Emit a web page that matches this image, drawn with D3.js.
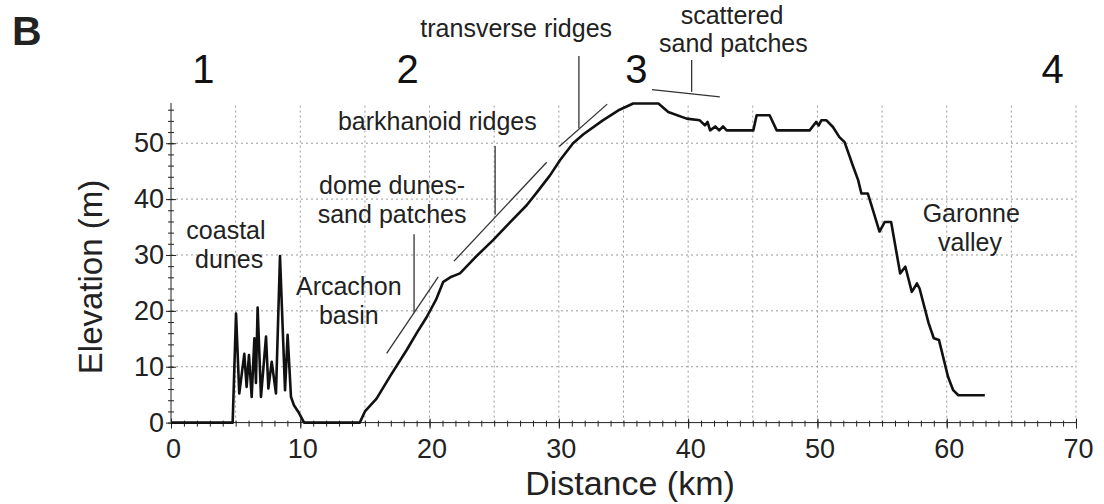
<!DOCTYPE html>
<meta charset="utf-8">
<style>
body { margin: 0; background: #fff; }
svg { display: block; font-family: "Liberation Sans", Arial, sans-serif; }
.grid line { stroke: #9a9a9a; stroke-width: 1; stroke-dasharray: 2,3; }
.axis path, .axis line { stroke: #222; fill: none; }
.axis text { font-size: 27px; fill: #222; font-family: "Liberation Sans", Arial, sans-serif; }
.profile { fill: none; stroke: #111; stroke-width: 2.6px; stroke-linejoin: round; }
.lead { stroke: #333; stroke-width: 1.3px; }
.note { font-size: 25px; fill: #222; text-anchor: middle; }
.zone { font-size: 40px; fill: #111; text-anchor: middle; }
</style>
<body>
<div id="chart"></div>
<script src="https://cdn.jsdelivr.net/npm/d3@7"></script>
<script>

// profile: distance (km) and elevation (m)
var distKm = [0, 4.77, 5.03, 5.28, 5.67, 5.85, 6.03, 6.24, 6.45, 6.57, 6.7, 6.96, 7.35, 7.53, 7.79, 8.12, 8.43, 8.82, 9.02, 9.28, 9.51, 9.85, 10.18, 10.3,
  14.6, 15.0, 15.9, 17.0, 18.23, 19.0, 19.78, 20.5, 21.06, 21.6, 22.35, 23.5, 24.93, 26.2, 27.51, 28.3, 29.3, 30.1, 31.1, 31.9, 33.4, 34.7, 35.75, 37.7,
  38.46, 39.88, 40.9, 41.3, 41.5, 41.7, 42.1, 42.4, 42.7, 42.98, 45.04, 45.3, 46.3, 46.85, 49.4, 49.9, 50.1, 50.3, 50.7, 51.2, 51.7, 52.1, 52.77,
  53.15, 53.4, 53.9, 54.3, 54.8, 55.2, 55.7, 56.4, 56.8, 57.3, 57.7, 57.9, 58.6, 59.0, 59.4, 60.1, 60.5, 60.9, 62.95];
var elevM = [0, 0, 19.5, 5.2, 12.3, 6.4, 12.1, 4.6, 15.1, 7.1, 20.6, 4.6, 15.4, 6.1, 10.9, 5.2, 29.8, 5.8, 15.7, 4.6, 3.1, 1.9, 0.5, 0,
  0, 2.0, 4.3, 8.5, 13.0, 16.0, 18.9, 22.0, 25.2, 26.0, 26.7, 29.5, 32.7, 35.8, 38.9, 41.2, 44.2, 47.0, 50.0, 51.6, 54.1, 56.0, 57.1, 57.1,
  55.6, 54.4, 54.1, 53.2, 53.8, 52.3, 53.0, 52.3, 53.0, 52.3, 52.3, 55.0, 55.0, 52.3, 52.3, 53.8, 53.2, 54.1, 54.1, 52.9, 51.1, 50.2, 45.8,
  43.4, 41.0, 41.0, 38.0, 34.2, 35.9, 35.9, 26.7, 27.9, 23.4, 24.9, 24.0, 17.8, 15.1, 14.8, 8.2, 5.8, 4.9, 4.9];

var xTicks = [0, 10, 20, 30, 40, 50, 60, 70];
var yTicks = [0, 10, 20, 30, 40, 50];

// zone numbers above the plot
var zoneNames = ["1", "2", "3", "4"];
var zoneKm = [2.5, 18.3, 36.0, 68.2];

// annotation texts, anchored in km / m
var noteText = ["transverse ridges", "scattered", "sand patches", "barkhanoid ridges", "dome dunes-", "sand patches",
  "coastal", "dunes", "Arcachon", "basin", "Garonne", "valley"];
var noteKm = [26.7, 43.4, 43.5, 20.6, 17.1, 17.1, 4.25, 4.5, 13.75, 13.75, 61.9, 61.8];
var noteM = [69.0, 71.4, 66.3, 52.4, 40.9, 35.8, 32.9, 27.7, 22.8, 17.7, 35.9, 30.7];

// leader lines [km1, m1, km2, m2]
var leaders = [
  [18.8, 33.7, 18.8, 19.7],
  [16.68, 12.4, 20.67, 26.1],
  [21.89, 28.9, 29.06, 46.6],
  [25.07, 49.5, 25.07, 37.2],
  [31.55, 65.6, 31.55, 52.7],
  [30.03, 49.4, 33.74, 57.0],
  [40.27, 64.9, 40.27, 59.2],
  [37.2, 59.6, 42.45, 58.3]
];

var W = 1104, H = 504;
var svg = d3.select("#chart").append("svg").attr("width", W).attr("height", H);

var x = d3.scaleLinear().domain([0, 70]).range([171, 1076]);
var y = d3.scaleLinear().domain([0, 57.2]).range([422.6, 103]);

// dotted grid
var grid = svg.append("g").attr("class", "grid");
grid.selectAll(".v").data(d3.range(5, 71, 5)).enter().append("line")
  .attr("x1", function(d) { return x(d); }).attr("x2", function(d) { return x(d); })
  .attr("y1", y(0)).attr("y2", y(57.2));
grid.selectAll(".h").data(yTicks.slice(1)).enter().append("line")
  .attr("x1", x(0)).attr("x2", x(70))
  .attr("y1", function(d) { return y(d); }).attr("y2", function(d) { return y(d); });

// minor ticks
var xMinor = svg.append("g").attr("class", "axis").attr("transform", "translate(0," + y(0) + ")")
  .call(d3.axisBottom(x).tickValues(d3.range(0, 71, 1)).tickSize(4).tickFormat(""));
xMinor.selectAll(".tick line").attr("y1", -2);
var yMinor = svg.append("g").attr("class", "axis").attr("transform", "translate(" + x(0) + ",0)")
  .call(d3.axisLeft(y).tickValues(d3.range(0, 57, 2)).tickSize(3).tickFormat(""));
yMinor.selectAll(".tick line").attr("x1", 3);

// major axes
var xAxis = svg.append("g").attr("class", "axis").attr("transform", "translate(0," + y(0) + ")")
  .call(d3.axisBottom(x).tickValues(xTicks).tickSize(6).tickPadding(10).tickFormat(d3.format("d")));
xAxis.selectAll(".tick line").attr("y1", -4);
xAxis.selectAll(".tick text").attr("dx", 2);
var yAxis = svg.append("g").attr("class", "axis").attr("transform", "translate(" + x(0) + ",0)")
  .call(d3.axisLeft(y).tickValues(yTicks).tickSize(5).tickPadding(2).tickFormat(d3.format("d")));
yAxis.selectAll(".tick line").attr("x1", 5);
yAxis.select(".domain").attr("d", "M0," + y(0) + "V" + y(57.2));
xAxis.select(".domain").attr("d", "M" + x(0) + ",0H" + x(70));
xMinor.select(".domain").remove();
yMinor.select(".domain").remove();

// profile
var pts = distKm.map(function(d, i) { return [d, elevM[i]]; });
svg.append("path").datum(pts).attr("class", "profile")
  .attr("d", d3.line().x(function(d) { return x(d[0]); }).y(function(d) { return y(d[1]); }));

// leader lines
svg.selectAll(".lead").data(leaders).enter().append("line").attr("class", "lead")
  .attr("x1", function(d) { return x(d[0]); }).attr("y1", function(d) { return y(d[1]); })
  .attr("x2", function(d) { return x(d[2]); }).attr("y2", function(d) { return y(d[3]); });

// notes
svg.selectAll(".note").data(noteText).enter().append("text").attr("class", "note")
  .attr("x", function(d, i) { return x(noteKm[i]); })
  .attr("y", function(d, i) { return y(noteM[i]); })
  .text(function(d) { return d; });

// zone numbers
svg.selectAll(".zone").data(zoneNames).enter().append("text").attr("class", "zone")
  .attr("x", function(d, i) { return x(zoneKm[i]); })
  .attr("y", 83)
  .text(function(d) { return d; });

// titles
svg.append("text").attr("x", 12).attr("y", 45)
  .style("font-size", "41px").style("font-weight", "bold").style("fill", "#222").text("B");
svg.append("text").attr("x", 630).attr("y", 495).attr("text-anchor", "middle")
  .style("font-size", "34px").style("fill", "#222").text("Distance (km)");
svg.append("text").attr("transform", "translate(102,277) rotate(-90)").attr("text-anchor", "middle")
  .style("font-size", "33px").style("fill", "#222").text("Elevation (m)");

</script>
